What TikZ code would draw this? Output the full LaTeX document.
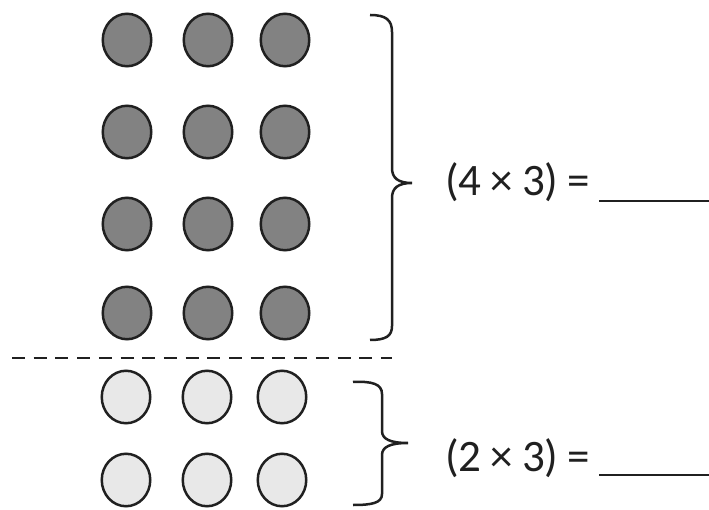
\documentclass[tikz,border=0pt]{standalone}
\usepackage{fontspec}
\setmainfont{Carlito}
\usetikzlibrary{shapes.geometric}
\definecolor{inkgray}{HTML}{202020}
\definecolor{darkdot}{HTML}{828282}
\definecolor{lightdot}{HTML}{E8E8E8}
\newcommand{\sumfont}{\fontsize{45}{50}\selectfont\spaceskip 9pt\relax}

\begin{document}
\begin{tikzpicture}[x=1pt, y=-1pt, line width=2.5pt, inkgray,
    dot/.style={draw=inkgray, ellipse, inner sep=0pt, minimum width=48.5pt, minimum height=52.5pt},
    sum/.style={anchor=base west, inner sep=0pt, text=inkgray, font=\sumfont}]
  \useasboundingbox (0,0) rectangle (709,510);

  % dark rows (4 x 3)
  \foreach \r/\y in {1/40, 2/132, 3/224, 4/313}
    \foreach \c/\x in {1/127, 2/208, 3/285}
      \node[dot, fill=darkdot] (d-\r-\c) at (\x,\y) {};

  % light rows (2 x 3)
  \foreach \r/\y in {1/397, 2/480}
    \foreach \c/\x in {1/126, 2/207, 3/282}
      \node[dot, fill=lightdot] (l-\r-\c) at (\x,\y) {};

  \coordinate (cutL) at (12,358);
  \coordinate (cutR) at (392,358);
  \draw[line width=2.2pt, dash pattern=on 13pt off 8.7pt] (cutL) -- (cutR);

  % braces
  \draw (370,15) .. controls (386,15) and (392,20) .. (392,32) -- (392,168)
    .. controls (392,178) and (398,183) .. (412,183)
    .. controls (398,183) and (392,188) .. (392,198) -- (392,326)
    .. controls (392,336) and (386,340) .. (370,340);
  \draw (353,382) .. controls (372,381) and (382,384) .. (382,394) -- (382,431)
    .. controls (382,439) and (390,443) .. (408,443)
    .. controls (390,443) and (382,447) .. (382,455) -- (382,494)
    .. controls (382,503) and (372,505) .. (353,505);

  \node[sum] (sumA) at (444,196) {(4 × 3) =};
  \node[sum] (sumB) at (444,471) {(2 × 3) =};

  \coordinate (blankA) at (599,201);
  \coordinate (blankB) at (599,475);
  \draw[line width=1.6pt] (blankA) -- ++(110,0);
  \draw[line width=1.6pt] (blankB) -- ++(110,0);
\end{tikzpicture}
\end{document}
